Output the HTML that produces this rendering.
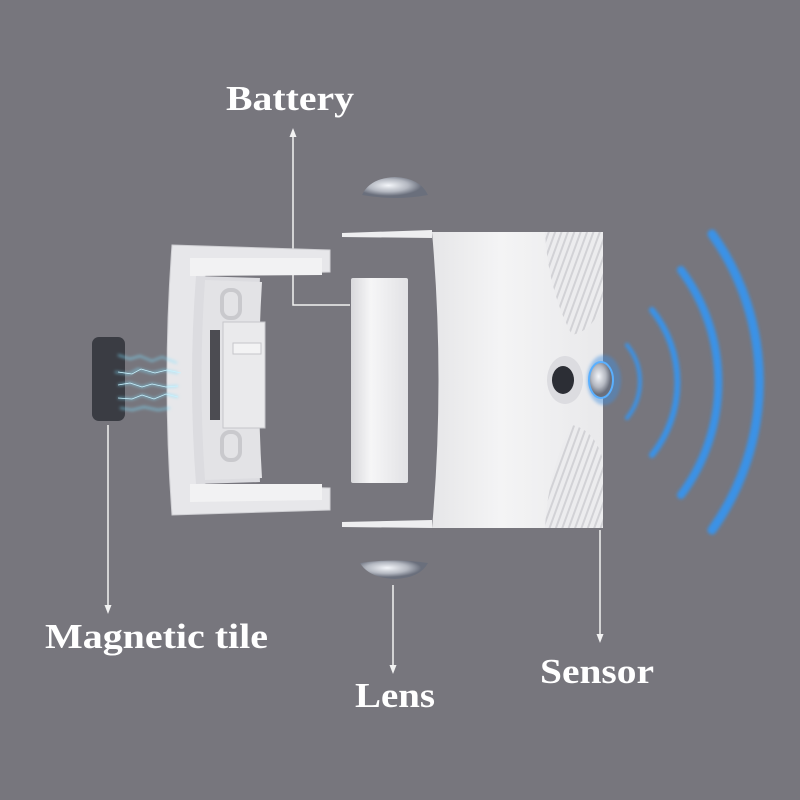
<!DOCTYPE html>
<html><head><meta charset="utf-8"><style>
html,body{margin:0;padding:0;background:#77767d;}
svg{display:block}
text{font-family:"Liberation Serif",serif;font-weight:bold;fill:#fff;font-size:35px}
</style></head><body>
<svg width="800" height="800" viewBox="0 0 800 800" xmlns="http://www.w3.org/2000/svg">
<defs>
<linearGradient id="cyl" x1="0" x2="1"><stop offset="0" stop-color="#d9d9dc"/><stop offset="0.35" stop-color="#f6f6f7"/><stop offset="1" stop-color="#e2e2e5"/></linearGradient>
<linearGradient id="box" x1="0" x2="1"><stop offset="0" stop-color="#e6e6e8"/><stop offset="0.4" stop-color="#f4f4f5"/><stop offset="1" stop-color="#e9e9eb"/></linearGradient>
<pattern id="stripe" width="6" height="6" patternUnits="userSpaceOnUse" patternTransform="rotate(20)"><rect width="6" height="6" fill="#ececee"/><rect width="2" height="6" fill="#d2d2d6"/></pattern>
<filter id="glow"><feGaussianBlur stdDeviation="1.5"/></filter>
<radialGradient id="lens" cx="0.4" cy="0.4"><stop offset="0" stop-color="#f4f6fa"/><stop offset="0.6" stop-color="#b4b8c1"/><stop offset="1" stop-color="#6a6f7c"/></radialGradient>
</defs>
<rect width="800" height="800" fill="#77767d"/>

<g stroke="#f2f2f2" stroke-width="1.5" fill="none">
<path d="M293 135 V305 H350"/>
<path d="M108 425 V608"/>
<path d="M393 585 V668"/>
<path d="M600 530 V637"/>
</g>
<g fill="#f2f2f2">
<path d="M293 128 l-3.5 9 h7z"/>
<path d="M108 614 l-3.5 -9 h7z"/>
<path d="M393 674 l-3.5 -9 h7z"/>
<path d="M600 643 l-3.5 -9 h7z"/>
</g>

<path d="M362 195 Q370 178 395 177 Q420 178 428 195 Q395 201 362 195z" fill="url(#lens)"/>
<path d="M360 563 Q394 558 428 563 Q420 578 395 579 Q369 578 360 563z" fill="url(#lens)"/>

<path d="M172 245 L330 250 L330 272 L205 275 Q198 380 205 485 L330 488 L330 510 L172 515 Q162 380 172 245z" fill="#e7e7ea" stroke="#cfcfd3"/>
<path d="M190 258 L322 258 L322 275 L190 276z" fill="#f2f2f3"/>
<path d="M190 484 L322 484 L322 500 L190 502z" fill="#f2f2f3"/>
<path d="M196 276 L260 278 Q254 380 260 482 L196 484 Q188 380 196 276z" fill="#dcdce0"/>
<path d="M205 280 L262 282 Q256 380 262 478 L205 480 Q198 380 205 280z" fill="#e3e3e6"/>
<rect x="222" y="290" width="18" height="28" rx="8" fill="none" stroke="#c9c9cd" stroke-width="4"/>
<rect x="222" y="432" width="18" height="28" rx="8" fill="none" stroke="#c9c9cd" stroke-width="4"/>
<rect x="223" y="322" width="42" height="106" fill="#eaeaec" stroke="#c6c6ca"/>
<rect x="210" y="330" width="10" height="90" fill="#4c4c52"/>
<rect x="233" y="343" width="28" height="11" fill="#f3f3f4" stroke="#c6c6ca"/>

<rect x="92" y="337" width="33" height="84" rx="7" fill="#3a3c43"/>
<g stroke="#7fe0ff" stroke-width="1.2" fill="none" filter="url(#glow)">
<path d="M118 355 l12 4 l10 -3 l12 5 l10 -4 l15 6"/>
<path d="M115 372 l14 2 l9 -5 l14 4 l12 -3 l14 3"/>
<path d="M118 385 l12 -2 l12 4 l10 -3 l14 3 l12 -1"/>
<path d="M118 398 l14 1 l10 -4 l12 4 l12 -5 l12 3"/>
<path d="M120 408 l12 2 l12 -3 l14 3 l12 -2"/>
</g>
<g stroke="#c9f3ff" stroke-width="0.8" fill="none">
<path d="M118 372 l14 2 l9 -5 l14 4 l12 -3 l14 3"/>
<path d="M118 385 l12 -2 l12 4 l10 -3 l14 3 l12 -1"/>
<path d="M118 398 l14 1 l10 -4 l12 4 l12 -5 l12 3"/>
</g>

<rect x="351" y="278" width="57" height="205" rx="2" fill="url(#cyl)"/>

<path d="M342 233 L432 230 L432 238 L342 237z" fill="#eeeef0"/>
<path d="M342 522 L432 520 L432 528 L342 527z" fill="#eeeef0"/>

<path d="M432 232 L603 232 L603 528 L432 528 Q445 380 432 232z" fill="url(#box)"/>
<path d="M545 232 L603 232 L603 300 Q595 330 572 335 Q548 290 545 232z" fill="url(#stripe)"/>
<path d="M545 528 L603 528 L603 460 Q595 430 572 425 Q548 470 545 528z" fill="url(#stripe)"/>
<ellipse cx="565" cy="380" rx="18" ry="24" fill="#dcdce0"/>
<ellipse cx="563" cy="380" rx="11" ry="14" fill="#2c2e35"/>
<ellipse cx="604" cy="380" rx="17" ry="25" fill="#3f8fe0" opacity="0.45" filter="url(#glow)"/>
<ellipse cx="601" cy="380" rx="12" ry="18" fill="url(#lens)" stroke="#5ab0ff" stroke-width="2"/>

<g fill="none" stroke="#3b92e6" stroke-linecap="round" filter="url(#glow)">
<path d="M627 345 A58 58 0 0 1 627 418" stroke-width="4"/>
<path d="M652 310 A116 116 0 0 1 652 455" stroke-width="6"/>
<path d="M681 270 A188 188 0 0 1 681 495" stroke-width="8"/>
<path d="M712 234 A255 255 0 0 1 712 530" stroke-width="9"/>
</g>

<text x="226" y="110" textLength="128" lengthAdjust="spacingAndGlyphs">Battery</text>
<text x="45" y="648" textLength="223" lengthAdjust="spacingAndGlyphs">Magnetic tile</text>
<text x="355" y="707" textLength="80" lengthAdjust="spacingAndGlyphs">Lens</text>
<text x="540" y="683" textLength="114" lengthAdjust="spacingAndGlyphs">Sensor</text>
</svg>
</body></html>
